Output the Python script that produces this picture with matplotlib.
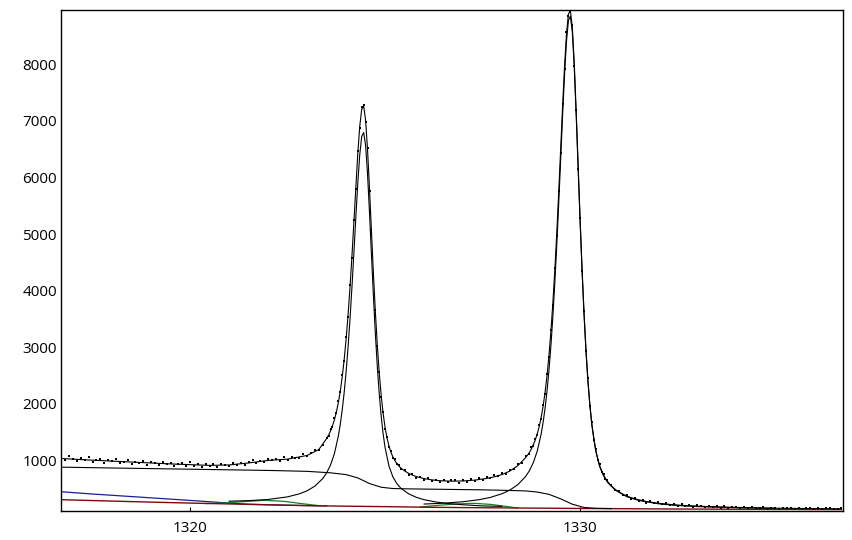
import matplotlib.pyplot as plt

plt.rcParams['font.family'] = ['Open Sans', 'DejaVu Sans']

# puntos medidos (raman shift, cuentas)
data_x = [1316.7, 1316.8, 1316.9, 1317.0, 1317.1, 1317.2, 1317.3, 1317.4, 1317.5, 1317.6,
          1317.7, 1317.8, 1317.9, 1318.0, 1318.1, 1318.2, 1318.3, 1318.4, 1318.5, 1318.6,
          1318.7, 1318.8, 1318.9, 1319.0, 1319.1, 1319.2, 1319.3, 1319.4, 1319.5, 1319.6,
          1319.7, 1319.8, 1319.9, 1320.0, 1320.1, 1320.2, 1320.3, 1320.4, 1320.5, 1320.6,
          1320.7, 1320.8, 1320.9, 1321.0, 1321.1, 1321.2, 1321.3, 1321.4, 1321.5, 1321.6,
          1321.7, 1321.8, 1321.9, 1322.0, 1322.1, 1322.2, 1322.3, 1322.4, 1322.5, 1322.6,
          1322.7, 1322.8, 1322.9, 1323.0, 1323.1, 1323.2, 1323.3, 1323.4,
          1323.50, 1323.55, 1323.60, 1323.65, 1323.70, 1323.75, 1323.80, 1323.85, 1323.90, 1323.95,
          1324.00, 1324.05, 1324.10, 1324.15, 1324.20, 1324.25, 1324.30, 1324.35, 1324.40, 1324.45,
          1324.50, 1324.55, 1324.60, 1324.65, 1324.70, 1324.75, 1324.80, 1324.85, 1324.90, 1324.95,
          1325.00, 1325.05, 1325.10, 1325.15, 1325.20, 1325.25, 1325.30, 1325.35, 1325.40,
          1325.5, 1325.6, 1325.7, 1325.8, 1325.9, 1326.0, 1326.1, 1326.2, 1326.3, 1326.4,
          1326.5, 1326.6, 1326.7, 1326.8, 1326.9, 1327.0, 1327.1, 1327.2, 1327.3, 1327.4,
          1327.5, 1327.6, 1327.7, 1327.8, 1327.9, 1328.0, 1328.1, 1328.2, 1328.3, 1328.4,
          1328.5, 1328.6,
          1328.70, 1328.75, 1328.80, 1328.85, 1328.90, 1328.95, 1329.00, 1329.05, 1329.10, 1329.15,
          1329.20, 1329.25, 1329.30, 1329.35, 1329.40, 1329.45, 1329.50, 1329.55, 1329.60, 1329.65,
          1329.70, 1329.75, 1329.80, 1329.85, 1329.90, 1329.95, 1330.00, 1330.05, 1330.10, 1330.15,
          1330.20, 1330.25, 1330.30, 1330.35, 1330.40, 1330.45, 1330.50, 1330.55, 1330.60, 1330.65,
          1330.70,
          1330.8, 1330.9, 1331.0, 1331.1, 1331.2, 1331.3, 1331.4, 1331.5, 1331.6, 1331.7,
          1331.8, 1331.9, 1332.0, 1332.1, 1332.2, 1332.3, 1332.4, 1332.5, 1332.6, 1332.7,
          1332.8, 1332.9, 1333.0, 1333.1, 1333.2, 1333.3, 1333.4, 1333.5, 1333.6, 1333.7,
          1333.8, 1333.9, 1334.0, 1334.1, 1334.2, 1334.3, 1334.4, 1334.5, 1334.6, 1334.7,
          1334.8, 1334.9, 1335.0, 1335.1, 1335.2, 1335.3, 1335.4, 1335.5, 1335.6, 1335.7,
          1335.8, 1335.9, 1336.0, 1336.1, 1336.2, 1336.3, 1336.4, 1336.5, 1336.6, 1336.7]
data_y = [1063, 1004, 1070, 1032, 983, 1034, 1000, 1062, 973, 1005,
          1021, 948, 1005, 981, 1018, 960, 976, 1013, 940, 977,
          948, 985, 917, 974, 955, 922, 979, 930, 952, 899,
          932, 959, 907, 969, 906, 929, 886, 934, 906, 937,
          874, 930, 917, 899, 956, 923, 960, 912, 964, 1003,
          957, 986, 965, 1029, 999, 1023, 983, 1052, 1012, 1055,
          1048, 1041, 1114, 1072, 1130, 1180, 1181, 1275,
          1402, 1432, 1548, 1594, 1746, 1841, 2052, 2205, 2507, 2759,
          3180, 3542, 4103, 4584, 5256, 5794, 6468, 6877, 7250, 7280,
          6978, 6523, 5759, 5072, 4277, 3656, 3013, 2567, 2121, 1851,
          1555, 1414, 1234, 1164, 1035, 1018, 930, 918, 847,
          830, 750, 765, 695, 705, 650, 690, 630, 660, 615,
          655, 610, 645, 660, 600, 650, 625, 675, 640, 690,
          655, 705, 680, 735, 715, 775, 760, 835, 840, 930,
          950, 1070,
          1121, 1229, 1258, 1386, 1451, 1623, 1737, 1975, 2179, 2522,
          2820, 3306, 3739, 4395, 4966, 5761, 6441, 7297, 7920, 8571,
          8856, 8922, 8696, 7973, 7188, 6157, 5290, 4346, 3647, 2935,
          2450, 1965, 1676, 1365, 1207, 1013, 931, 800, 760, 663,
          646,
          565, 470, 455, 385, 385, 325, 340, 290, 305, 255,
          278, 240, 260, 225, 250, 215, 230, 200, 225, 195,
          210, 180, 205, 190, 170, 195, 175, 190, 165, 185,
          160, 180, 170, 150, 175, 160, 175, 150, 165, 170,
          145, 160, 165, 140, 160, 150, 165, 140, 155, 135,
          160, 150, 140, 155, 135, 150, 160, 135, 145, 150]

# curva de ajuste total
fit_x = [1316.7, 1317.5, 1318.5, 1319.5, 1320.5, 1321.0, 1321.5, 1322.0, 1322.5, 1323.0, 1323.3,
         1323.50, 1323.55, 1323.60, 1323.65, 1323.70, 1323.75, 1323.80, 1323.85, 1323.90, 1323.95,
         1324.00, 1324.05, 1324.10, 1324.15, 1324.20, 1324.25, 1324.30, 1324.35, 1324.40, 1324.45,
         1324.50, 1324.55, 1324.60, 1324.65, 1324.70, 1324.75, 1324.80, 1324.85, 1324.90, 1324.95,
         1325.00, 1325.05, 1325.10, 1325.15, 1325.20, 1325.25, 1325.30, 1325.35, 1325.40,
         1325.5, 1325.6, 1325.7, 1325.8, 1326.0, 1326.2, 1326.4, 1326.7, 1327.0, 1327.3,
         1327.6, 1327.8, 1328.0, 1328.2, 1328.4, 1328.6,
         1328.70, 1328.75, 1328.80, 1328.85, 1328.90, 1328.95, 1329.00, 1329.05, 1329.10, 1329.15,
         1329.20, 1329.25, 1329.30, 1329.35, 1329.40, 1329.45, 1329.50, 1329.55, 1329.60, 1329.65,
         1329.70, 1329.75, 1329.80, 1329.85, 1329.90, 1329.95, 1330.00, 1330.05, 1330.10, 1330.15,
         1330.20, 1330.25, 1330.30, 1330.35, 1330.40, 1330.45, 1330.50, 1330.55, 1330.60, 1330.65,
         1330.70,
         1330.8, 1330.9, 1331.0, 1331.1, 1331.2, 1331.3, 1331.4, 1331.5, 1331.6, 1331.7,
         1331.8, 1331.9, 1332.0, 1332.2, 1332.4, 1332.6, 1332.8, 1333.3, 1334.0, 1334.5,
         1335.0, 1336.0, 1336.7]
fit_y = [1033, 1003, 970, 937, 911, 919, 954, 999, 1022, 1087, 1191,
         1385, 1446, 1520, 1608, 1717, 1851, 2018, 2222, 2473, 2777,
         3142, 3568, 4059, 4614, 5215, 5836, 6427, 6906, 7206, 7261,
         7011, 6485, 5796, 5038, 4301, 3626, 3036, 2541, 2143, 1824,
         1579, 1392, 1250, 1142, 1060, 996, 945, 902, 865,
         813, 772, 739, 713, 677, 655, 641, 632, 636, 651,
         680, 709, 750, 811, 905, 1046,
         1139, 1202, 1274, 1361, 1467, 1595, 1755, 1953, 2194, 2490,
         2846, 3272, 3773, 4351, 5003, 5723, 6485, 7250, 7960, 8535,
         8890, 8945, 8657, 8011, 7148, 6196, 5255, 4382, 3613, 2959,
         2420, 1987, 1648, 1386, 1185, 1031, 910, 816, 741, 681,
         629,
         548, 487, 439, 401, 369, 343, 321, 303, 287, 273,
         262, 252, 242, 228, 215, 205, 198, 182, 168, 161,
         155, 147, 144]

# pico 1
p1_x = [1321.0, 1321.5, 1322.0, 1322.5, 1322.8, 1323.0, 1323.2, 1323.4,
        1323.50, 1323.60, 1323.70, 1323.80, 1323.85, 1323.90, 1323.95, 1324.00, 1324.05, 1324.10,
        1324.15, 1324.20, 1324.25, 1324.30, 1324.35, 1324.40, 1324.45, 1324.50, 1324.55, 1324.60,
        1324.65, 1324.70, 1324.75, 1324.80, 1324.85, 1324.90, 1324.95, 1325.00, 1325.10, 1325.20,
        1325.30, 1325.40, 1325.6, 1325.8, 1326.0, 1326.3, 1326.6, 1327.0, 1327.5, 1328.0]
p1_y = [278, 288, 309, 355, 408, 462, 545, 678,
        778, 917, 1120, 1427, 1634, 1889, 2196, 2565, 2999, 3499,
        4063, 4673, 5304, 5905, 6403, 6723, 6796, 6566, 6055, 5374,
        4631, 3904, 3237, 2657, 2171, 1776, 1463, 1222, 897, 707,
        591, 510, 410, 347, 305, 264, 238, 215, 195, 186]

# pico 2
p2_x = [1326.0, 1326.5, 1327.0, 1327.4, 1327.7, 1328.0, 1328.2, 1328.4, 1328.6, 1328.7,
        1328.8, 1328.9, 1329.0, 1329.05, 1329.10, 1329.15, 1329.20, 1329.25, 1329.30, 1329.35,
        1329.40, 1329.45, 1329.50, 1329.55, 1329.60, 1329.65, 1329.70, 1329.75, 1329.80, 1329.85,
        1329.90, 1329.95, 1330.00, 1330.05, 1330.10, 1330.15, 1330.20, 1330.25, 1330.30, 1330.40,
        1330.50, 1330.60, 1330.70, 1330.9, 1331.2, 1331.5, 1332.0, 1332.5, 1333.0, 1334.0, 1335.0]
p2_y = [228, 243, 269, 304, 345, 411, 475, 569, 713, 817,
        960, 1162, 1463, 1666, 1914, 2217, 2582, 3017, 3530, 4121,
        4787, 5522, 6300, 7083, 7809, 8401, 8774, 8851, 8574, 7941,
        7087, 6145, 5211, 4344, 3580, 2930, 2394, 1964, 1627, 1166,
        894, 727, 615, 474, 357, 292, 233, 202, 183, 163, 151]

# hombro ancho
shoulder_x = [1316.7, 1318.0, 1320.25, 1322.0, 1323.0, 1323.6, 1324.0, 1324.3, 1324.6, 1324.9,
              1325.2, 1325.6, 1326.5, 1327.5, 1328.2, 1328.6, 1328.9, 1329.2, 1329.5, 1329.8,
              1330.1, 1330.4, 1330.8]
shoulder_y = [880, 865, 841, 822, 806, 780, 748, 690, 590, 525,
              502, 496, 488, 479, 468, 460, 440, 400, 320, 225,
              168, 152, 147]

# linea base
base_x = [1316.7, 1318.0, 1319.0, 1320.0, 1321.0, 1322.0, 1323.0, 1324.0, 1325.0, 1326.0,
          1327.0, 1328.0, 1329.0, 1330.0, 1331.0, 1332.0, 1333.0, 1334.0, 1335.0, 1336.7]
base_y = [305, 280, 262, 245, 230, 214, 200, 190, 182, 172,
          165, 160, 155, 150, 146, 142, 139, 136, 133, 130]

blue_x = [1316.7, 1317.5, 1318.5, 1319.5, 1320.3, 1321.0, 1321.5, 1322.5, 1323.5]
blue_y = [445, 405, 360, 315, 278, 245, 225, 207, 195]

green1_x = [1320.4, 1320.9, 1321.4, 1321.9, 1322.4, 1322.9, 1323.3]
green1_y = [236, 248, 272, 294, 276, 232, 200]
green2_x = [1325.9, 1326.4, 1326.9, 1327.3, 1327.7, 1328.1, 1328.4]
green2_y = [174, 208, 232, 240, 222, 186, 158]

x_ticks = [1320, 1330]
y_ticks = [1000, 2000, 3000, 4000, 5000, 6000, 7000, 8000]

fig = plt.figure(figsize=(8.53, 5.40), dpi=100)
ax = fig.add_axes([61 / 853, 29 / 540, 782 / 853, 501 / 540])

ax.plot(blue_x, blue_y, color='#1c1c9c', lw=0.9)
ax.plot(green1_x, green1_y, color='#1f7a1f', lw=0.9)
ax.plot(green2_x, green2_y, color='#1f7a1f', lw=0.9)
ax.plot(base_x, base_y, color='#7a0a0a', lw=1.0)
ax.plot(shoulder_x, shoulder_y, color='black', lw=0.8)
ax.plot(p1_x, p1_y, color='black', lw=0.8)
ax.plot(p2_x, p2_y, color='black', lw=0.8)
ax.plot(fit_x, fit_y, color='black', lw=0.8)
ax.plot(data_x, data_y, 's', color='black', ms=1.9, mew=0)

ax.set_xlim(1316.69, 1336.74)
ax.set_ylim(105, 8960)
ax.set_xticks(x_ticks)
ax.set_yticks(y_ticks)
ax.tick_params(axis='x', direction='in', length=3, pad=7, labelsize=11)
ax.tick_params(axis='y', length=0, pad=3, labelsize=11)
for s in ax.spines.values():
    s.set_linewidth(1.0)

fig.savefig('out.png', dpi=100)
